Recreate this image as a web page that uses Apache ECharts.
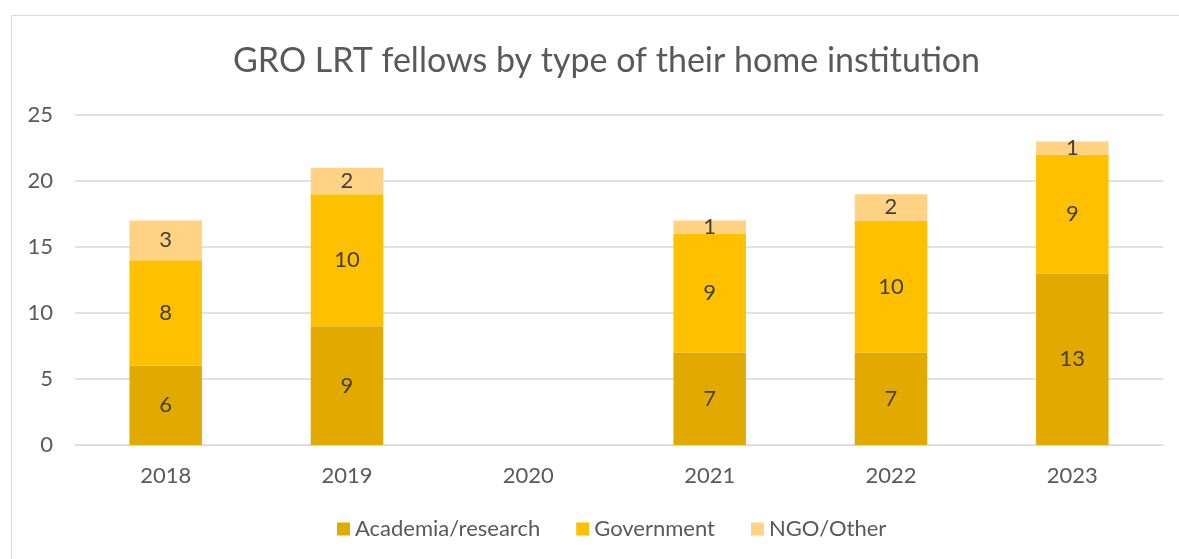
<!DOCTYPE html>
<html><head><meta charset="utf-8">
<script src="https://cdn.jsdelivr.net/npm/echarts@6/dist/echarts.min.js"></script>
<style>html,body{margin:0;padding:0;background:#fff}#c{width:1179px;height:559px}</style>
</head><body><div id="c"></div>
<script>
const categories = ['2018','2019','2020','2021','2022','2023'];
const academia = [6, 9, null, 7, 7, 13];
const government = [8, 10, null, 9, 10, 9];
const ngo = [3, 2, null, 1, 2, 1];
const yTicks = [0, 5, 10, 15, 20, 25];

const font = 'Lato, "Open Sans", sans-serif';
const chart = echarts.init(document.getElementById('c'));
const lbl = {show: true, position: 'inside', color: '#404040', fontSize: 22, fontFamily: font};
function s(name, data, color) {
  return {name, type: 'bar', stack: 'a', data, barWidth: '40%', itemStyle: {color}, label: lbl};
}
chart.setOption({
  animation: false,
  title: {text: 'GRO LRT fellows by type of their home institution', left: 228, top: 39,
    textStyle: {color: '#595959', fontSize: 34, fontWeight: 'normal', fontFamily: font}},
  graphic: [{type: 'rect', shape: {x: 11.5, y: 15.5, width: 1200, height: 600}, style: {fill: 'none', stroke: '#d9d9d9', lineWidth: 1}, silent: true}],
  legend: {bottom: 14, left: 332, itemWidth: 13, itemHeight: 13, itemGap: 36, icon: 'rect',
    textStyle: {color: '#595959', fontSize: 22, fontFamily: font}},
  grid: {left: 75, right: 16, top: 115, bottom: 114},
  xAxis: {type: 'category', data: categories,
    axisLine: {lineStyle: {color: '#d9d9d9'}}, axisTick: {show: false},
    axisLabel: {color: '#595959', fontSize: 22, fontFamily: font, margin: 20}},
  yAxis: {type: 'value', min: 0, max: 25, interval: 5,
    axisLine: {show: false}, axisTick: {show: false},
    splitLine: {lineStyle: {color: '#d9d9d9', width: 1.5}},
    axisLabel: {color: '#595959', fontSize: 22, fontFamily: font, margin: 22,
      formatter: v => yTicks.includes(v) ? String(v) : ''}},
  series: [s('Academia/research', academia, '#E2AA00'), s('Government', government, '#FFC000'), s('NGO/Other', ngo, '#FFD284')]
});
</script></body></html>
